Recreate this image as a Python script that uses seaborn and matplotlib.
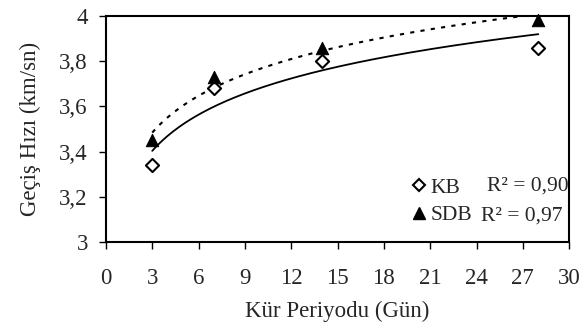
import numpy as np
import pandas as pd
import matplotlib
matplotlib.use("Agg")
import matplotlib.pyplot as plt
import seaborn as sns
from matplotlib.lines import Line2D

days = [3, 7, 14, 28]
kb = [3.34, 3.68, 3.80, 3.86]
sdb = [3.45, 3.73, 3.86, 3.98]
r2_labels = ["R² = 0,90", "R² = 0,97"]
x_ticks = [0, 3, 6, 9, 12, 15, 18, 21, 24, 27, 30]
y_ticks = [3.0, 3.2, 3.4, 3.6, 3.8, 4.0]

sns.set_theme(style="white")
plt.rcParams['font.family'] = ['Liberation Serif', 'DejaVu Serif']
FS = 16.5
LFS = 15.5

fig = plt.figure(figsize=(5.82, 3.24), dpi=100)
ax = fig.add_axes([0.182, 0.253, 0.796, 0.698])

# logarithmic trend lines fitted to the data
xx = np.linspace(3, 28, 200)
def logfit(y):
    a, b = np.polyfit(np.log(days), y, 1)
    return a * np.log(xx) + b

fit_df = pd.DataFrame({"x": np.concatenate([xx, xx]),
                       "y": np.concatenate([logfit(kb), logfit(sdb)]),
                       "s": ["KB"] * len(xx) + ["SDB"] * len(xx)})
sns.lineplot(data=fit_df[fit_df.s == "KB"], x="x", y="y", color="black",
             linewidth=1.3, ax=ax, legend=False)
sns.lineplot(data=fit_df[fit_df.s == "SDB"], x="x", y="y", color="black",
             linewidth=1.5, ax=ax, legend=False, dashes=False)
ax.lines[-1].set_dashes((2, 3))

pts = pd.DataFrame({"x": days + days, "y": kb + sdb,
                    "s": ["KB"] * 4 + ["SDB"] * 4})
sns.scatterplot(data=pts[pts.s == "KB"], x="x", y="y", marker="D", s=45,
                facecolor="white", edgecolor="black", linewidth=1.5, ax=ax,
                zorder=5, clip_on=False)
sns.scatterplot(data=pts[pts.s == "SDB"], x="x", y="y", marker="^", s=80,
                color="black", edgecolor="black", ax=ax, zorder=5, clip_on=False)

ax.set_xlim(0, 30)
ax.set_ylim(3, 4)
ax.set_xticks(x_ticks)
ax.set_yticks(y_ticks)
ax.set_yticklabels([("%g" % v).replace(".", ",") for v in y_ticks])
ax.tick_params(axis="both", direction="out", length=5, width=1, color="black",
               labelsize=FS, bottom=True, left=True)
ax.tick_params(axis="y", pad=8)
ax.tick_params(axis="x", pad=14)
for sp in ax.spines.values():
    sp.set_color("black")
    sp.set_linewidth(1.5)
ax.set_xlabel("Kür Periyodu (Gün)", fontsize=FS, labelpad=8)
ax.set_ylabel("Geçiş Hızı (km/sn)", fontsize=FS, labelpad=13)

handles = [Line2D([], [], marker="D", linestyle="none", markersize=6.5,
                  markerfacecolor="white", markeredgecolor="black", markeredgewidth=1.5),
           Line2D([], [], marker="^", linestyle="none", markersize=9,
                  color="black")]
leg = ax.legend(handles, ["KB", "SDB"], loc="center left",
                bbox_to_anchor=(0.652, 0.18), frameon=False, fontsize=LFS,
                handletextpad=0.05, handlelength=1.0, labelspacing=0.35,
                borderpad=0, borderaxespad=0)
ax.text(0.823, 0.248, r2_labels[0], transform=ax.transAxes, fontsize=LFS, va="center")
ax.text(0.810, 0.117, r2_labels[1], transform=ax.transAxes, fontsize=LFS, va="center")

fig.savefig("out.png", dpi=100)
